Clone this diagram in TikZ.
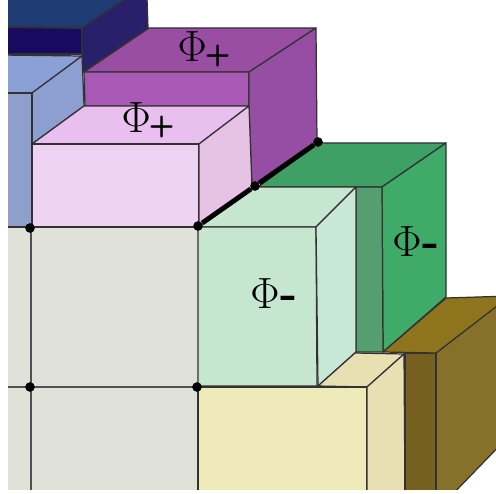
\documentclass[tikz,border=0pt]{standalone}
\usepackage{amsmath}
\usetikzlibrary{positioning}
\definecolor{navytop}{RGB}{31,59,115}
\definecolor{navyfront}{RGB}{23,10,96}
\definecolor{navyside}{RGB}{42,31,107}
\definecolor{bluetop}{RGB}{140,160,216}
\definecolor{blueside}{RGB}{140,159,208}
\definecolor{bluefront}{RGB}{143,159,203}
\definecolor{purpletop}{RGB}{153,77,163}
\definecolor{purplefront}{RGB}{168,88,181}
\definecolor{purpleside}{RGB}{149,78,163}
\definecolor{pinktop}{RGB}{232,191,238}
\definecolor{pinkfront}{RGB}{238,210,244}
\definecolor{pinkside}{RGB}{230,194,228}
\definecolor{greentop}{RGB}{62,160,100}
\definecolor{greenside}{RGB}{64,171,104}
\definecolor{greenstrip}{RGB}{84,158,112}
\definecolor{mintface}{RGB}{198,230,208}
\definecolor{mintside}{RGB}{200,231,214}
\definecolor{creamfront}{RGB}{238,234,186}
\definecolor{creamtop}{RGB}{232,223,178}
\definecolor{browntop}{RGB}{142,116,28}
\definecolor{brownstrip}{RGB}{118,96,32}
\definecolor{brownside}{RGB}{135,112,42}
\definecolor{basegrey}{RGB}{224,225,217}
\definecolor{edgegrey}{RGB}{50,50,50}
\tikzset{
  face/.style={draw=edgegrey, line width=0.7pt, line join=round},
  gridline/.style={draw=edgegrey!85, line width=0.8pt},
  corner/.style={circle, fill=black, inner sep=0pt, minimum size=5.5pt},
  ridge/.style={line width=2.8pt, black},
  phase/.style={inner sep=0pt, font=\fontsize{26}{26}\selectfont}
}
\newcommand{\phiplus}{$\Phi$\kern-1pt\raisebox{-1pt}{\fontsize{17}{17}\selectfont\sffamily\bfseries +}}
\newcommand{\phiminus}{$\Phi$\kern0.5pt{\bfseries -}}
\begin{document}
\begin{tikzpicture}[x=0.02cm, y=-0.02cm]
\useasboundingbox (0,0) rectangle (496,493);

\begin{scope}
\clip (8,0) rectangle (496,489);

% ---- Base plate ----
\fill[basegrey] (0,227) rectangle (198,500);
\draw[gridline] (31,227) -- (31,500);
\draw[gridline] (0,387) -- (198,387);

% ---- Navy block ----
\draw[face, fill=navytop] (0,27) -- (82,28) -- (127,-2) -- (0,-2) -- cycle;
\draw[face, line width=1.1pt, fill=navyfront] (0,27) -- (82,28) -- (82,54) -- (0,54) -- cycle;
\draw[face, fill=navyside] (82,28) -- (127,-2) -- (147,-2) -- (148,28) -- (83,72) -- (82,54) -- cycle;

% ---- Blue block ----
\draw[face, fill=bluetop] (0,55) -- (82,56) -- (32,93) -- (0,93) -- cycle;
\draw[face, fill=blueside] (32,93) -- (82,56) -- (84,106) -- (32,144) -- cycle;
\draw[face, fill=bluefront] (0,93) -- (32,93) -- (32,227) -- (0,227) -- cycle;

% ---- Purple block ----
\draw[face, fill=purpletop] (84,72) -- (149,28) -- (316,28) -- (249,72) -- cycle;
\draw[face, fill=purplefront] (84,72) -- (249,72) -- (249,106) -- (85,106) -- cycle;
\draw[face, fill=purpleside] (249,72) -- (316,28) -- (317,142) -- (252,188) -- (249,106) -- cycle;

% ---- Pink block ----
\draw[face, fill=pinktop] (32,144) -- (84,106) -- (249,106) -- (199,144) -- cycle;
\draw[face, fill=pinkfront] (32,144) -- (199,144) -- (199,227) -- (32,227) -- cycle;
\draw[face, fill=pinkside] (199,144) -- (249,106) -- (252,188) -- (199,227) -- cycle;

% ---- Green block ----
\draw[face, fill=greentop] (258,187) -- (318,143) -- (446,143) -- (382,187) -- cycle;
\draw[face, fill=greenside] (382,187) -- (446,143) -- (446,297) -- (383,352) -- cycle;
\draw[face, fill=greenstrip] (356,187) -- (382,187) -- (383,352) -- (356,352) -- cycle;

% ---- Mint block ----
\draw[face, fill=mintface] (198,227) -- (256,187) -- (356,187) -- (316,227) -- cycle;
\draw[face, fill=mintface] (198,227) -- (316,227) -- (317,386) -- (198,386) -- cycle;
\draw[face, fill=mintside] (316,227) -- (356,187) -- (356,352) -- (318,386) -- cycle;

% ---- Cream block ----
\draw[face, fill=creamtop] (318,386) -- (355,353) -- (404,354) -- (367,387) -- cycle;
\draw[face, fill=creamfront] (198,387) -- (367,387) -- (367,500) -- (198,500) -- cycle;
\draw[face, fill=creamtop] (367,387) -- (404,354) -- (405,500) -- (367,500) -- cycle;

% ---- Brown block ----
\draw[face, fill=brownside] (436,353) -- (510,295) -- (510,435) -- (447,500) -- (436,500) -- cycle;
\draw[face, fill=brownstrip] (405,353) -- (436,353) -- (436,500) -- (405,500) -- cycle;
\draw[face, fill=browntop] (383,352) -- (446,298) -- (510,296) -- (436,353) -- cycle;
\end{scope}

% ---- Corner dots ----
\node[corner] (plateleft) at (30,228) {};
\node[corner] (platemid) at (198,226) {};
\node[corner] (ridgemid) at (255,186) {};
\node[corner] (ridgeend) at (318,142) {};
\node[corner] (lowleft) at (30,387) {};
\node[corner] (lowmid) at (197,387) {};
\draw[ridge] (platemid) -- (ridgemid) -- (ridgeend);

% ---- Labels ----
\node[phase] (labeltop) at (204,49) {\phiplus};
\node[phase] (labelpink) at (148,120) {\phiplus};
\node[phase] (labelgreen) at (416,242) {\phiminus};
\node[phase] (labelmint) at (274,294) {\phiminus};

\end{tikzpicture}
\end{document}
